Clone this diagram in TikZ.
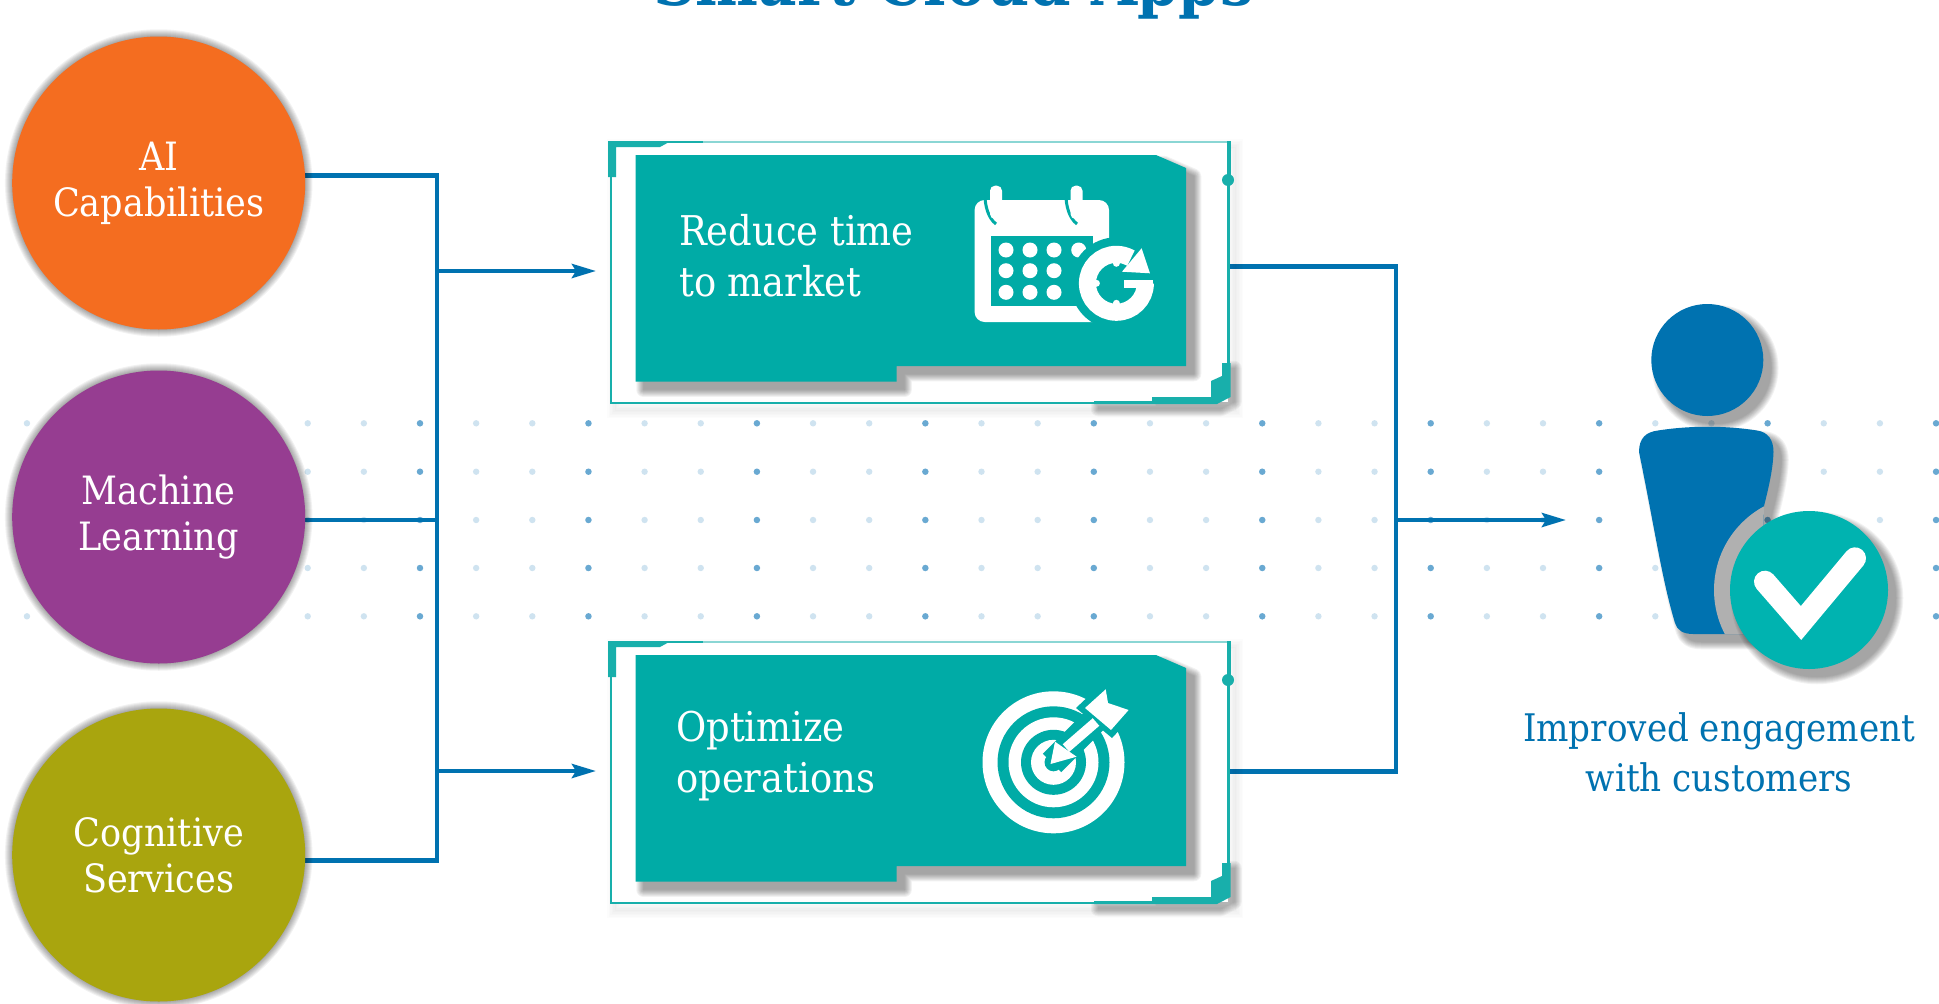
\documentclass[tikz,border=0pt]{standalone}
\usepackage{fontspec}
\setmainfont{DejaVu Serif Condensed}
\usetikzlibrary{arrows.meta}
\definecolor{lineblue}{HTML}{0072B0}
\definecolor{boxteal}{HTML}{00ABA6}
\definecolor{frameteal}{HTML}{18AFAB}
\definecolor{lightframe}{HTML}{8AD6D4}
\definecolor{checkteal}{HTML}{00B3B0}
\definecolor{cOrange}{HTML}{F46D20}
\definecolor{cPurple}{HTML}{963D91}
\definecolor{cOlive}{HTML}{A9A50E}
\definecolor{dotlight}{HTML}{CFE3F0}
\definecolor{dotdark}{HTML}{69A9D2}
\definecolor{ringgrey}{HTML}{B0B0B0}
\newcommand{\softshadow}[4]{\foreach \w in {0.5,2.5,...,14.5}{\begin{scope}[transparency group,opacity=#3,shift={(#1,#2)}]\filldraw[black,line width=\w pt,line join=round] #4;\end{scope}}}
\newcommand{\softstroke}[4]{\foreach \w in {1,4,...,16}{\begin{scope}[opacity=#3,shift={(#1,#2)}]\draw[black,line width=\w pt] #4;\end{scope}}}
\newcommand{\boxpath}{(635.5,155) -- (1156,155) -- (1186,168) -- (1186,366) -- (896.6,366) -- (896.6,381.7) -- (635.5,381.7) -- cycle}
\newcommand{\cornerpath}{(1222,363) -- (1230.5,363) -- (1230.5,397) -- (1217,404) -- (1094,404) -- (1094,401) -- (1152,401) -- (1152,397) -- (1211,397) -- (1211,381) -- (1222,376) -- cycle}
\newcommand{\bodypath}{(1639,452) .. controls (1639,438) and (1646,432) .. (1658,430.5) .. controls (1690,425.5) and (1725,425.5) .. (1757,430.5) .. controls (1768,432) and (1773.5,440) .. (1773.5,452) .. controls (1773,470) and (1768,490) .. (1764,506) -- (1760,634) -- (1693,634) .. controls (1683,634) and (1677,630) .. (1675,623) .. controls (1662,580) and (1655,530) .. (1639,452) -- cycle}
\newcommand{\cardframe}{%
  \softstroke{5}{6}{0.012}{(610,141) rectangle (1230,404)}
  \softshadow{4}{5}{0.04}{\cornerpath}
  \fill[white] (612,143) rectangle (1228,402);
  \fill[frameteal] (608,141) -- (671,141) -- (660,147) -- (616,147) -- (616,177) -- (608,177) -- cycle;
  \draw[lightframe,line width=2pt] (671,141.5) -- (1230,141.5);
  \draw[frameteal,line width=2pt] (660,141.5) -- (703,141.5);
  \draw[frameteal,line width=2.5pt] (611,177) -- (611,403);
  \draw[frameteal,line width=2pt] (610,403.3) -- (1216,403.3);
  \draw[frameteal,line width=3.5pt] (1229,141) -- (1229,176);
  \fill[frameteal] (1228,180) circle[radius=6];
  \draw[frameteal,line width=3pt] (1228,184) -- (1228,363);
  \fill[frameteal] \cornerpath;
  \softshadow{8}{8}{0.05}{\boxpath}
  \fill[boxteal] \boxpath;
}
\tikzset{
  x=1pt,y=-1pt,
  conn/.style={lineblue,line width=4.5pt,line cap=butt,line join=miter},
  arrowconn/.style={conn,-{Stealth[length=24pt,width=14pt,inset=4pt]}},
  bigcircle/.style={circle,inner sep=0pt,minimum size=293pt,text=white,align=center,font=\fontsize{39}{46}\selectfont},
  cardtext/.style={text=white,align=left,anchor=west,inner sep=0pt,font=\fontsize{41}{51}\selectfont},
  lightdot/.style={fill=dotlight},
  darkdot/.style={fill=dotdark},
}
\begin{document}
\begin{tikzpicture}
\useasboundingbox (0,0) rectangle (1939,1004);
\fill[white] (0,0) rectangle (1939,1004);
\clip (0,0) rectangle (1939,1004);
% dots
\foreach \r in {423.3,471.7,520,568,616.3}{
  \foreach \k in {-7,...,27}{\fill[lightdot] ({420+56.15*\k},\r) circle[radius=3.2];}
  \foreach \k in {-6,-3,...,27}{\fill[darkdot] ({420+56.15*\k},\r) circle[radius=3.2];}
}
% title
\node[anchor=base,inner sep=0pt,text=lineblue,font=\fontsize{66}{70}\selectfont\bfseries] (title) at (953.5,5) {Smart Cloud Apps};
% named coordinates
\coordinate (jtop) at (437,175.6);
\coordinate (jmid) at (437,520);
\coordinate (jbot) at (437,860.7);
\coordinate (jup) at (437,271);
\coordinate (jdown) at (437,771);
\coordinate (tipa) at (596,271);
\coordinate (tipb) at (596,771);
\coordinate (outa) at (1230,266.5);
\coordinate (outb) at (1230,771.7);
\coordinate (ra) at (1396,266.5);
\coordinate (rb) at (1396,771.7);
\coordinate (rm) at (1396,520);
\coordinate (tipc) at (1566,520);
% circle nodes declared for connectors
\path (158.7,183) coordinate (aic) (158.7,517) coordinate (mlc) (158.7,855) coordinate (csc);
\coordinate (aie) at (305,175.6);
\coordinate (mle) at (305,520);
\coordinate (cse) at (305,860.7);
% connectors
\draw[conn] (aie) -- (jtop) -- (jbot) -- (cse);
\draw[conn] (mle) -- (jmid);
\draw[arrowconn] (jup) -- (tipa);
\draw[arrowconn] (jdown) -- (tipb);
\draw[conn] (outa) -- (ra) -- (rb) -- (outb);
\draw[arrowconn] (rm) -- (tipc);
% circles
\softshadow{8}{8}{0.05}{(aic) circle[radius=146.5]}
\softshadow{8}{8}{0.05}{(mlc) circle[radius=146.5]}
\softshadow{8}{8}{0.05}{(csc) circle[radius=146.5]}
\node[bigcircle,fill=cOrange] (ai) at (aic) {AI\\Capabilities};
\node[bigcircle,fill=cPurple] (ml) at (mlc) {Machine\\Learning};
\node[bigcircle,fill=cOlive] (cs) at (csc) {Cognitive\\Services};
% card one
\cardframe
\node[cardtext] (reduce) at (679,256) {Reduce time\\to market};
% calendar icon
\fill[white,rounded corners=10pt] (974.6,200) rectangle (1109,322);
\fill[boxteal] (991,236) rectangle (1093,305.7);
\draw[boxteal,line width=3pt] (985,196) .. controls (985,205) and (988,218) .. (996,224);
\draw[boxteal,line width=3pt] (1066,196) .. controls (1066,205) and (1069,218) .. (1077,224);
\fill[white,rounded corners=5pt] (990,185.7) rectangle (1002,219);
\fill[white,rounded corners=5pt] (1070.5,185.7) rectangle (1082.5,219);
\foreach \cx in {1006,1030,1054,1078.7}{\fill[white] (\cx,250) circle[radius=7.5];}
\foreach \cy in {270.7,292.3}{\foreach \cx in {1006,1030,1054}{\fill[white] (\cx,\cy) circle[radius=7.5];}}
\fill[boxteal] (1116.4,283.3) circle[radius=46];
\draw[white,line width=17pt] (1145.4,283.3) arc[start angle=0,end angle=300,radius=29];
\fill[white] (1124,280) rectangle (1153,288);
\fill[white] (1141.6,248.3) -- (1122,271.7) -- (1150,273.3) -- cycle;
\foreach \a in {90,180,270}{\fill[white] ({1116.4+20*cos(\a)},{283.3+20*sin(\a)}) circle[radius=3.5];}
% card two
\begin{scope}[shift={(0,500)}]
\cardframe
\node[cardtext] (optimize) at (676,256) {Optimize\\operations};
% target icon
\fill[white] (1053.5,262.3) circle[radius=71];
\fill[boxteal] (1053.5,262.3) circle[radius=56];
\fill[white] (1053.5,262.3) circle[radius=45];
\fill[boxteal] (1053.5,262.3) circle[radius=32.5];
\fill[white] (1053.5,262.3) circle[radius=22.5];
\fill[boxteal] (1053.5,262.3) circle[radius=9];
\draw[boxteal,line width=26pt] (1052,263) -- (1100,215);
\fill[boxteal] (1105.7,180) -- (1140,208) -- (1112,238) -- (1076,208) -- cycle;
\draw[white,line width=10pt] (1066,248) -- (1096,222);
\fill[white] (1050.5,264) -- (1055,241.7) -- (1076.6,256.7) -- cycle;
\fill[white] (1105.7,189.3) -- (1108,203) -- (1128.6,210) -- (1111,230) -- (1085,208) -- cycle;
\end{scope}
% person
\softshadow{8}{8}{0.05}{(1707.3,360) circle[radius=56]}
\softshadow{8}{8}{0.05}{\bodypath}
\fill[lineblue] (1707.3,360) circle[radius=56];
\fill[lineblue] \bodypath;
\begin{scope}
\clip \bodypath;
\fill[ringgrey] (1809,590) circle[radius=95];
\end{scope}
\softshadow{8}{8}{0.05}{(1809,590) circle[radius=79]}
\fill[checkteal] (1809,590) circle[radius=79];
\draw[white,line width=22pt,line cap=round,line join=miter] (1765,581.7) -- (1801,623) -- (1855,558.3);
\node[text=lineblue,align=center,inner sep=0pt,font=\fontsize{38}{50}\selectfont] (improved) at (1719,752) {Improved engagement\\with customers};
\end{tikzpicture}
\end{document}
